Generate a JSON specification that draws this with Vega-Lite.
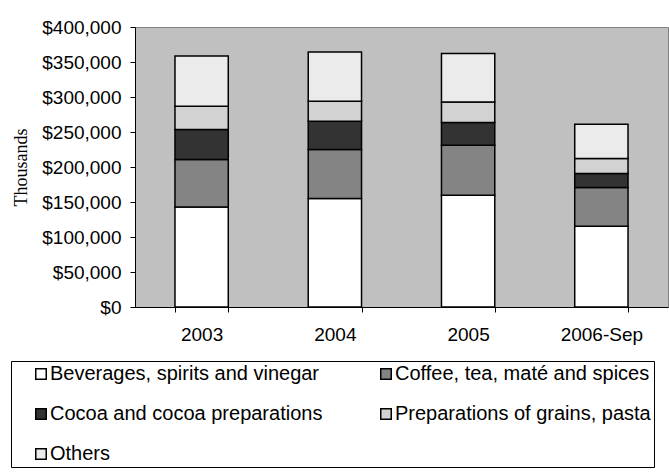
{
  "$schema": "https://vega.github.io/schema/vega-lite/v6.json",
  "autosize": "none",
  "width": 533,
  "height": 280,
  "padding": {"left": 135, "top": 27, "right": 1, "bottom": 168},
  "background": "white",
  "config": {
    "view": {"fill": "#C0C0C0", "stroke": "#808080", "strokeWidth": 1},
    "font": "Liberation Sans"
  },
  "data": {
    "values": [
      {"period": "2003", "category": "Beverages, spirits and vinegar", "k": 1, "value": 143},
      {"period": "2003", "category": "Coffee, tea, maté and spices", "k": 2, "value": 67.7},
      {"period": "2003", "category": "Cocoa and cocoa preparations", "k": 3, "value": 42.8},
      {"period": "2003", "category": "Preparations of grains, pasta", "k": 4, "value": 33.3},
      {"period": "2003", "category": "Others", "k": 5, "value": 71.9},
      {"period": "2004", "category": "Beverages, spirits and vinegar", "k": 1, "value": 155},
      {"period": "2004", "category": "Coffee, tea, maté and spices", "k": 2, "value": 70},
      {"period": "2004", "category": "Cocoa and cocoa preparations", "k": 3, "value": 40.4},
      {"period": "2004", "category": "Preparations of grains, pasta", "k": 4, "value": 28.6},
      {"period": "2004", "category": "Others", "k": 5, "value": 70.4},
      {"period": "2005", "category": "Beverages, spirits and vinegar", "k": 1, "value": 159.6},
      {"period": "2005", "category": "Coffee, tea, maté and spices", "k": 2, "value": 71.4},
      {"period": "2005", "category": "Cocoa and cocoa preparations", "k": 3, "value": 32.4},
      {"period": "2005", "category": "Preparations of grains, pasta", "k": 4, "value": 29.5},
      {"period": "2005", "category": "Others", "k": 5, "value": 69.1},
      {"period": "2006-Sep", "category": "Beverages, spirits and vinegar", "k": 1, "value": 115.3},
      {"period": "2006-Sep", "category": "Coffee, tea, maté and spices", "k": 2, "value": 55.3},
      {"period": "2006-Sep", "category": "Cocoa and cocoa preparations", "k": 3, "value": 20},
      {"period": "2006-Sep", "category": "Preparations of grains, pasta", "k": 4, "value": 21.4},
      {"period": "2006-Sep", "category": "Others", "k": 5, "value": 49}
    ]
  },
  "mark": {"type": "bar", "stroke": "black", "strokeWidth": 1.5, "opacity": 1},
  "encoding": {
    "x": {
      "field": "period",
      "type": "nominal",
      "scale": {"paddingInner": 0.6, "paddingOuter": 0.3},
      "axis": {
        "title": null,
        "labelAngle": 0,
        "tickBand": "extent",
        "domainColor": "black",
        "tickColor": "black",
        "tickSize": 5,
        "labelColor": "black",
        "labelFontSize": 19,
        "labelPadding": 13
      }
    },
    "y": {
      "field": "value",
      "type": "quantitative",
      "aggregate": "sum",
      "stack": "zero",
      "scale": {"domain": [0, 400], "nice": false},
      "axis": {
        "title": "Thousands",
        "titleFont": "Liberation Serif",
        "titleFontWeight": "normal",
        "titleFontSize": 18,
        "titleColor": "black",
        "titlePadding": 11,
        "values": [0, 50, 100, 150, 200, 250, 300, 350, 400],
        "labelExpr": "'$' + format(datum.value * 1000, ',.0f')",
        "grid": false,
        "domainColor": "black",
        "tickColor": "black",
        "tickSize": 5,
        "labelColor": "black",
        "labelFontSize": 19,
        "labelPadding": 9
      }
    },
    "order": {"field": "k", "type": "quantitative", "sort": "ascending"},
    "fill": {
      "field": "category",
      "type": "nominal",
      "scale": {
        "domain": ["Beverages, spirits and vinegar", "Coffee, tea, maté and spices", "Cocoa and cocoa preparations", "Preparations of grains, pasta", "Others"],
        "range": ["#ffffff", "#848484", "#333333", "#d2d2d2", "#ebebeb"]
      },
      "legend": {
        "title": null,
        "orient": "none",
        "legendX": -124,
        "legendY": 334,
        "columns": 2,
        "direction": "horizontal",
        "gridAlign": "all",
        "padding": 3,
        "columnPadding": 36,
        "rowPadding": 20,
        "strokeColor": "black",
        "fillColor": "white",
        "symbolType": "square",
        "symbolSize": 110,
        "symbolStrokeColor": "black",
        "symbolStrokeWidth": 1.5,
        "symbolOffset": 17,
        "labelOffset": -1,
        "labelFontSize": 20,
        "labelColor": "black",
        "labelLimit": 400
      }
    }
  }
}
